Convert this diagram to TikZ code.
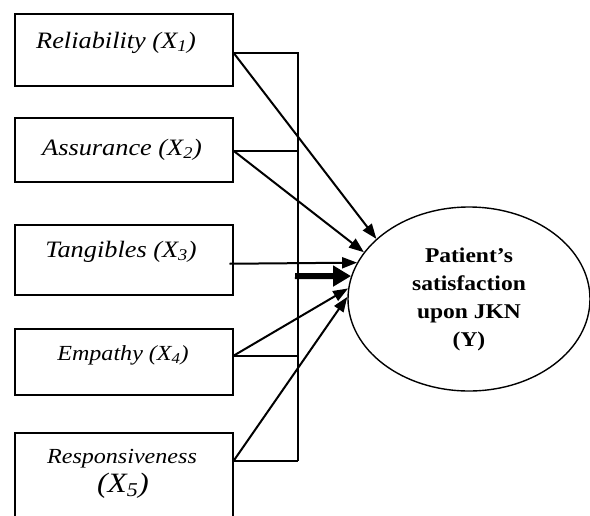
\documentclass[tikz,border=0pt]{standalone}
\usepackage{fontspec}
\setmainfont{Liberation Serif}[FakeStretch=1.12]
\usetikzlibrary{arrows.meta,shapes.geometric}
\begin{document}
\begin{tikzpicture}[x=1pt,y=-1pt,
  box/.style={draw,line width=1.5pt,minimum width=218pt,inner sep=0pt,anchor=north west},
  lbl/.style={anchor=base,inner sep=0pt,font=\fontsize{23.5}{28}\selectfont\itshape},
  lblsmall/.style={anchor=base,inner sep=0pt,font=\fontsize{21.5}{26}\selectfont\itshape},
  lblbig/.style={anchor=base,inner sep=0pt,font=\fontsize{28}{32}\selectfont\itshape},
  bus/.style={line width=2pt},
  arr/.style={line width=2pt,-{Triangle[length=15pt,width=11pt]}},
  thickarr/.style={line width=6pt,-{Triangle[length=18pt,width=20pt]}}]
\useasboundingbox (0,0) rectangle (590,515);
\clip (0,0) rectangle (590,515);

% boxes
\node[box,minimum height=72pt] (b1) at (14,13) {};
\node[box,minimum height=64pt] (b2) at (14,117) {};
\node[box,minimum height=70pt] (b3) at (14,224) {};
\node[box,minimum height=66pt] (b4) at (14,328) {};
\node[box,minimum height=100pt] (b5) at (14,432) {};

% labels
\node[lbl] (t1) at (116,48) {Reliability (X\textsubscript{1})};
\node[lbl] (t2) at (122,155) {Assurance (X\textsubscript{2})};
\node[lbl] (t3) at (121,257) {Tangibles (X\textsubscript{3})};
\node[lblsmall] (t4) at (123,360) {Empathy (X\textsubscript{4})};
\node[lblsmall] (t5a) at (122,463) {Responsiveness};
\node[lblbig] (t5b) at (123,492) {(X\textsubscript{5})};

% ellipse
\node[draw,ellipse,line width=1.4pt,minimum width=242pt,minimum height=184pt,inner sep=0pt,
      align=center,font=\fontsize{21}{28}\selectfont\bfseries] (Y) at (469,299)
  {Patient’s\\satisfaction\\upon JKN\\(Y)};

% bus
\coordinate (busT) at (298,52);
\coordinate (busB) at (298,461);
\draw[bus] (busT) -- (busB);
\draw[bus] ([yshift=-3pt]b1.east) -- ([yshift=-3pt]b1.east -| busT);
\draw[bus] ([yshift=-1pt]b2.east) -- ([yshift=-1pt]b2.east -| busT);
\draw[bus] ([yshift=6pt]b4.east) -- ([yshift=6pt]b4.east -| busT);
\draw[bus] ([yshift=-29pt]b5.north east) -- ([yshift=-29pt]b5.north east -| busT);

% arrows
\draw[arr] ([yshift=-3pt]b1.east) -- (Y.147);
\draw[arr] ([yshift=-1pt]b2.east) -- (Y.156);
\draw[arr] ([xshift=-4pt,yshift=-4pt]b3.east) -- (Y.162.3);
\draw[arr] ([yshift=6pt]b4.east) -- (Y.175);
\draw[arr] ([yshift=-29pt]b5.north east) -- (Y.179.5);
\coordinate (thk) at (295,276);
\draw[thickarr] (thk) -- (Y.169.5);
\end{tikzpicture}
\end{document}
